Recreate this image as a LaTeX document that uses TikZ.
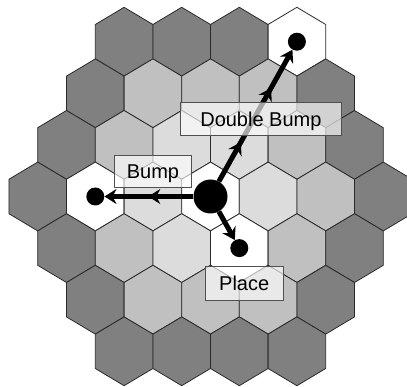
\documentclass[tikz,border=0pt]{standalone}
\usepackage{fontspec}
\setmainfont{Liberation Sans}
\usetikzlibrary{arrows.meta,decorations.markings}
\definecolor{hexD}{HTML}{808080}
\definecolor{hexM}{HTML}{C0C0C0}
\definecolor{hexL}{HTML}{DCDCDC}
\definecolor{hexW}{HTML}{FFFFFF}
\definecolor{hexline}{HTML}{2A2A2A}
\definecolor{boxline}{HTML}{505050}
\tikzset{
  hexcell/.style={draw=hexline, line width=0.8pt, line join=round},
  bigdot/.style={circle, fill=black, inner sep=0pt, minimum size=34pt},
  smalldot/.style={circle, fill=black, inner sep=0pt, minimum size=18pt},
  movearrow/.style={line width=5pt, -{Stealth[length=12pt,width=15pt,inset=4pt]}},
  midhead/.style={postaction={decorate, decoration={markings,
    mark=at position #1 with {\arrow{Stealth[length=12pt,width=15pt,inset=4pt]}}}}},
  lab/.style={draw=boxline, line width=0.8pt, fill=white, fill opacity=0.65, text opacity=1,
    inner sep=0pt, font=\fontsize{20}{22}\selectfont, text height=14.5pt, text depth=0pt},
}
\begin{document}
\begin{tikzpicture}[x=1pt,y=-1pt]
\useasboundingbox (0,0) rectangle (407,387);
\clip (0,0) rectangle (407,387);
% hexagonal board
\foreach \X/\r/\c in {
  -3/-3/hexD, -1/-3/hexD, 1/-3/hexD, 3/-3/hexW,
  -4/-2/hexD, -2/-2/hexM, 0/-2/hexM, 2/-2/hexM, 4/-2/hexD,
  -5/-1/hexD, -3/-1/hexM, -1/-1/hexL, 1/-1/hexL, 3/-1/hexM, 5/-1/hexD,
  -6/0/hexD, -4/0/hexW, -2/0/hexL, 0/0/hexW, 2/0/hexL, 4/0/hexM, 6/0/hexD,
  -5/1/hexD, -3/1/hexM, -1/1/hexL, 1/1/hexW, 3/1/hexM, 5/1/hexD,
  -4/2/hexD, -2/2/hexM, 0/2/hexM, 2/2/hexM, 4/2/hexD,
  -3/3/hexD, -1/3/hexD, 1/3/hexD, 3/3/hexD}
{
  \path[hexcell, fill=\c] ({210.5+\X*28.8},{196.5+\r*51.6})
    ++(0,-34.4) -- ++(28.8,17.2) -- ++(0,34.4) -- ++(-28.8,17.2)
    -- ++(-28.8,-17.2) -- ++(0,-34.4) -- cycle;
}
% pieces
\node[bigdot] (c) at (210.5,196.5) {};
\node[smalldot] (tr) at (296.9,41.7) {};
\node[smalldot] (lf) at (95.3,196.5) {};
\node[smalldot] (pl) at (239.3,248.1) {};
% moves
\draw[movearrow, midhead=45pt] (c) -- (lf);
\draw[movearrow, midhead=45pt, midhead=107pt] (c) -- (tr);
\draw[movearrow] (c) -- (pl);
% labels
\node[lab, minimum width=161.7pt, minimum height=33.3pt] (dbl) at (260.9,119.2) {Double Bump};
\node[lab, minimum width=77.4pt, minimum height=32.3pt] (bmp) at (153,171.2) {Bump};
\node[lab, minimum width=78.3pt, minimum height=34pt] (plc) at (244.2,283) {Place};
\end{tikzpicture}
\end{document}
